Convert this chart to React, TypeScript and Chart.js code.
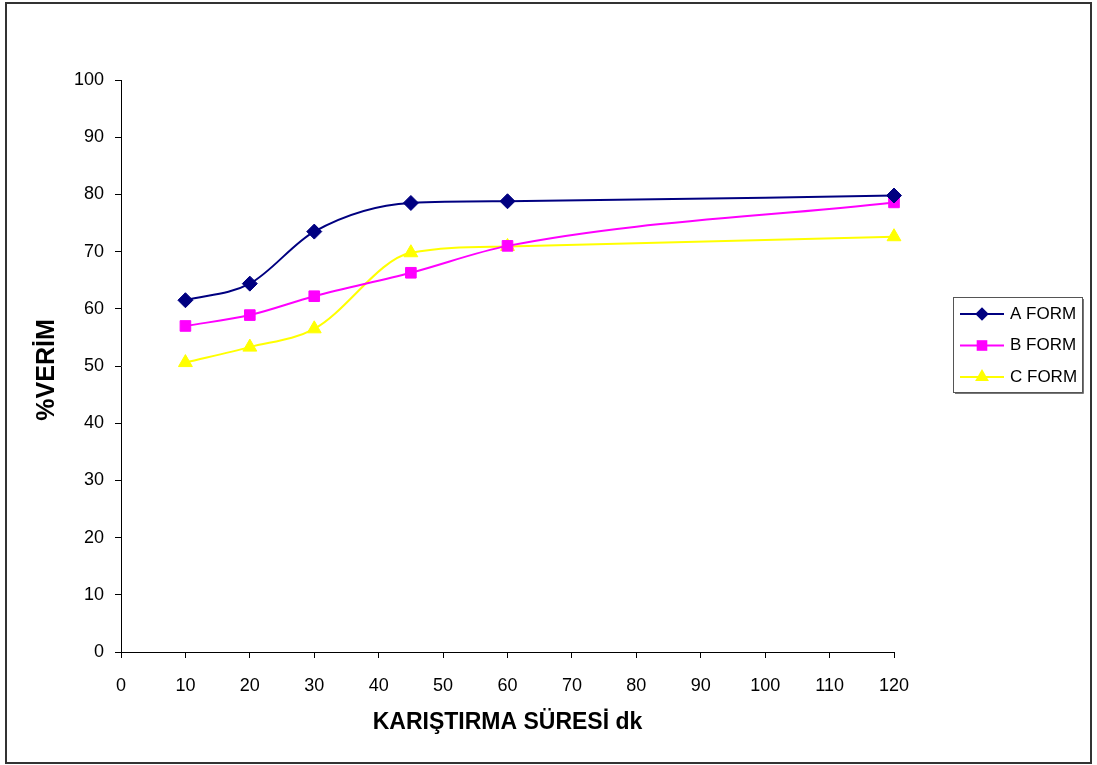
import React, { useEffect, useRef } from 'react';
import { Chart, registerables } from 'chart.js';

Chart.register(...registerables);

// Mixing time (minutes) and yield (%) for the three formulations
const minutes = [10, 20, 30, 45, 60, 120];
const formA = [61.5, 64.4, 73.5, 78.5, 78.8, 79.8];
const formB = [57.0, 58.9, 62.2, 66.3, 71.0, 78.6];
const formC = [50.6, 53.3, 56.5, 69.8, 70.9, 72.6];
const seriesLabels = ['A FORM', 'B FORM', 'C FORM'];
const xTitle = 'KARIŞTIRMA SÜRESİ dk';
const yTitle = '%VERİM';
const xRange = [0, 120];
const yRange = [0, 100];
const tickStep = 10;

const W = 1097;
const H = 765;
const FONT = '"Liberation Sans", Arial, sans-serif';

const colors = ['#000080', '#FF00FF', '#FFFF00'];
const styles = ['rectRot', 'rect', 'triangle'];
const radii = [7.5, 7.5, 8];

function drawMarker(ctx: CanvasRenderingContext2D, style: string, x: number, y: number, r: number, color: string) {
  ctx.save();
  ctx.fillStyle = color;
  ctx.beginPath();
  if (style === 'rectRot') {
    const d = r * 0.9;
    ctx.moveTo(x, y - d);
    ctx.lineTo(x + d, y);
    ctx.lineTo(x, y + d);
    ctx.lineTo(x - d, y);
  } else if (style === 'rect') {
    const s = Math.SQRT1_2 * r;
    ctx.rect(x - s, y - s, 2 * s, 2 * s);
  } else {
    const h = r * Math.sin(Math.PI / 3);
    ctx.moveTo(x, y - r);
    ctx.lineTo(x + h, y + r / 2);
    ctx.lineTo(x - h, y + r / 2);
  }
  ctx.closePath();
  ctx.fill();
  ctx.restore();
}

const decorations = {
  id: 'decorations',
  beforeDraw(chart: any) {
    const ctx = chart.ctx as CanvasRenderingContext2D;
    ctx.save();
    ctx.fillStyle = '#ffffff';
    ctx.fillRect(0, 0, chart.width, chart.height);
    ctx.restore();
  },
  afterDraw(chart: any) {
    const ctx = chart.ctx as CanvasRenderingContext2D;
    const area = chart.chartArea;
    ctx.save();

    // outer frame
    ctx.strokeStyle = '#333';
    ctx.lineWidth = 2;
    ctx.strokeRect(6, 3, 1085, 760);

    // axis titles
    ctx.fillStyle = '#000';
    ctx.textAlign = 'center';
    ctx.textBaseline = 'middle';
    ctx.font = `bold 23px ${FONT}`;
    ctx.fillText(xTitle, (area.left + area.right) / 2, 723);
    ctx.save();
    ctx.translate(47, (area.top + area.bottom) / 2 + 4);
    ctx.rotate(-Math.PI / 2);
    ctx.font = `bold 25px ${FONT}`;
    ctx.fillText(yTitle, 0, 0);
    ctx.restore();

    // legend box
    const bx = 953, by = 297, bw = 129, bh = 95;
    ctx.fillStyle = '#ffffff';
    ctx.fillRect(bx, by, bw, bh);
    ctx.strokeStyle = '#555';
    ctx.lineWidth = 1;
    ctx.strokeRect(bx + 0.5, by + 0.5, bw, bh);
    ctx.strokeStyle = '#777';
    ctx.beginPath();
    ctx.moveTo(bx + bw + 1.5, by + 2);
    ctx.lineTo(bx + bw + 1.5, by + bh + 1.5);
    ctx.lineTo(bx + 2, by + bh + 1.5);
    ctx.stroke();

    ctx.font = `17px ${FONT}`;
    ctx.textAlign = 'left';
    ctx.textBaseline = 'middle';
    chart.data.datasets.forEach((ds: any, i: number) => {
      const y = 314 + i * 31.5;
      ctx.strokeStyle = colors[i];
      ctx.lineWidth = 2;
      ctx.beginPath();
      ctx.moveTo(960, y);
      ctx.lineTo(1004, y);
      ctx.stroke();
      drawMarker(ctx, styles[i], 982, y, radii[i], colors[i]);
      ctx.fillStyle = '#000';
      ctx.fillText(ds.label, 1010, y);
    });
    ctx.restore();
  },
};

export default function App() {
  const ref = useRef<HTMLCanvasElement | null>(null);

  useEffect(() => {
    if (!ref.current) return;
    const seriesValues = [formA, formB, formC];
    const chart = new Chart(ref.current, {
      type: 'line',
      data: {
        datasets: seriesValues.map((vals, i) => ({
          label: seriesLabels[i],
          data: minutes.map((m, j) => ({ x: m, y: vals[j] })),
          borderColor: colors[i],
          backgroundColor: colors[i],
          borderWidth: 2,
          cubicInterpolationMode: 'monotone' as const,
          pointStyle: styles[i] as any,
          pointRadius: radii[i],
          pointBackgroundColor: colors[i],
          pointBorderColor: colors[i],
          pointBorderWidth: 1,
          fill: false,
          clip: false as any,
        })),
      },
      options: {
        animation: false,
        responsive: false,
        devicePixelRatio: 1,
        layout: { padding: { top: 80, right: 203, left: 0, bottom: 0 } },
        plugins: {
          legend: { display: false },
          tooltip: { enabled: false },
        },
        scales: {
          x: {
            type: 'linear',
            min: xRange[0],
            max: xRange[1],
            afterFit(scale: any) {
              scale.height = 113;
            },
            ticks: {
              stepSize: tickStep,
              color: '#000',
              padding: 17,
              maxRotation: 0,
              font: { family: FONT, size: 18 },
            },
            grid: {
              drawOnChartArea: false,
              drawTicks: true,
              tickLength: 6,
              color: '#000',
              lineWidth: 1,
            },
            border: { display: true, color: '#000', width: 1 },
          },
          y: {
            type: 'linear',
            min: yRange[0],
            max: yRange[1],
            afterFit(scale: any) {
              scale.width = 121;
            },
            ticks: {
              stepSize: tickStep,
              color: '#000',
              padding: 11,
              font: { family: FONT, size: 18 },
            },
            grid: {
              drawOnChartArea: false,
              drawTicks: true,
              tickLength: 6,
              color: '#000',
              lineWidth: 1,
            },
            border: { display: true, color: '#000', width: 1 },
          },
        },
      },
      plugins: [decorations],
    });
    return () => chart.destroy();
  }, []);

  return (
    <div style={{ position: 'absolute', left: 0, top: 0, width: W, height: H, background: '#fff' }}>
      <canvas ref={ref} width={W} height={H} style={{ display: 'block' }} />
    </div>
  );
}
